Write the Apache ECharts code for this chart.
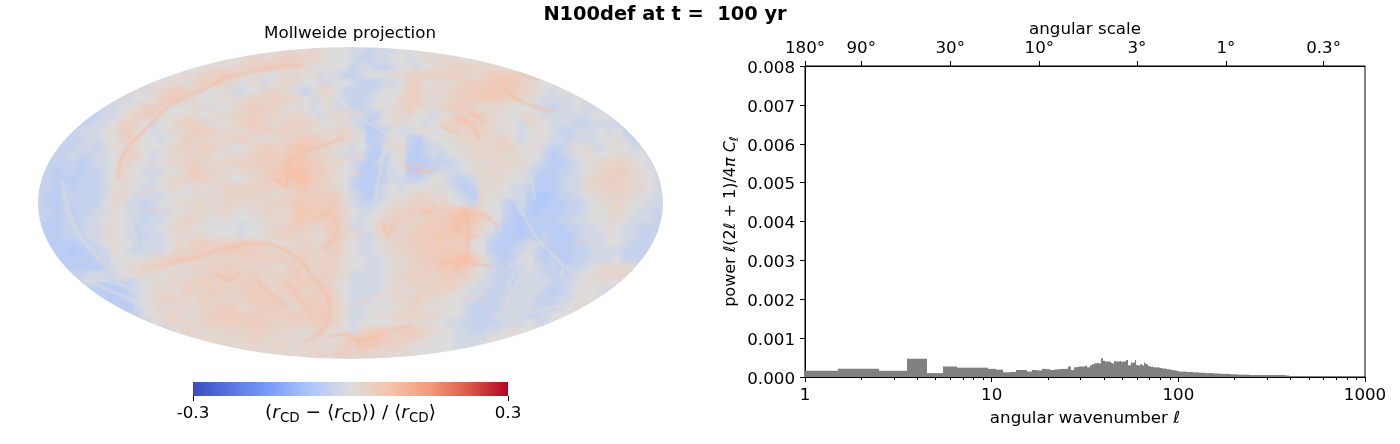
<!DOCTYPE html>
<html>
<head>
<meta charset="utf-8">
<script src="https://cdn.jsdelivr.net/npm/echarts@6/dist/echarts.min.js"></script>
<style>
  html, body { margin: 0; padding: 0; background: #fff; }
  #mapClip { position: absolute; left: 0; top: 0; width: 1400px; height: 444px; clip-path: ellipse(312.5px 156px at 350.5px 203px); }
  #mapLayer, #ridgeLayer { position: absolute; left: 0; top: 0; width: 1400px; height: 444px; }
  #mapLayer { filter: blur(2px); }
  #ridgeLayer { filter: blur(0.8px); }
  #main { position: absolute; left: 0; top: 0; width: 1400px; height: 444px; }
</style>
</head>
<body>
<div id="mapClip"><div id="mapLayer"></div><div id="ridgeLayer"></div></div>
<div id="main"></div>
<script>
// spectrum: power per multipole l = 1..100
var powerByEll = [
  .00016, .00021, .00016, .00047, .0001, .00027, .00024, .00024, .00024, .00021,
  .00019, .00012, .00013, .00018, .00018, .00014, .00018, .00017, .00021, .0002,
  .00018, .00019, .0002, .00021, .00021, .00027, .00018, .00025, .00026, .00027,
  .00027, .00029, .00025, .0003, .00033, .00035, .00036, .00035, .00048, .00042,
  .0004, .0004, .00039, .00036, .00034, .00041, .0004, .0004, .00041, .00039,
  .0004, .0004, .00044, .0003, .0003, .00037, .00036, .00037, .00044, .00031,
  .0003, .00029, .00033, .00031, .00029, .00037, .00035, .00033, .00028, .00027,
  .00028, .00026, .00027, .00025, .00025, .00024, .00026, .00025, .00024, .00023,
  .00023, .00022, .00022, .00021, .00022, .00021, .0002, .0002, .00019, .00019,
  .00019, .00018, .00018, .00018, .00017, .00017, .00016, .00016, .00016, .00015
]
// above l = 100 the bars are too thin to read one by one, so runs of them
var tailStart = [101, 110, 120, 130, 140, 155, 170, 190, 210, 240, 280, 330, 375]
var tailPower = [.00014, .00013, .00012, .00011, .0001, .00009, .00008, .00007, .00006, .00005, .00005, .00005, .00004]
var tailEnd = 391

var xMajor = [1, 10, 100, 1000]
var xMinor = [2, 3, 4, 5, 6, 7, 8, 9, 20, 30, 40, 50, 60, 70, 80, 90, 200, 300, 400, 500, 600, 700, 800, 900]
var scaleEll = [1, 2, 6, 18, 60, 180, 600] // 180 / l degrees
var colorbarTicks = [-0.3, 0.3]
var coolwarm = ['#3b4cc0', '#5977e3', '#7b9ff9', '#aec7fc', '#dddcdc', '#f5c4ac', '#f49a7b', '#da5a49', '#b40426']

// value of each hex digit used in mapRows
var mapLevels = [-.08, -.068, -.054, -.036, -.018, 0, .014, .028, .04, .052, .064, .08]
// map rows, top to bottom, grouped in fives for reading; a dot is off the sphere
var mapRows = [
  '..... ..... ..... ..... ..... ..556 67667 65554 43444 55666 55...',
  '..... ..... ..... ..... ..565 67767 88877 65554 33445 54566 76655 5....',
  '..... ..... ..... ...55 56656 78898 87765 56553 44334 55456 67777 76655',
  '..... ..... ..... 45565 78898 76655 66755 45433 45556 67788 88876 78998 755..',
  '..... ..... ..445 55657 88876 56645 76655 44554 33344 58856 66788 899a9 87655 5....',
  '..... ..... 44546 78987 65564 45577 66435 76533 33455 68866 77889 9aa99 87654 55...',
  '..... ....3 44556 89976 55656 67778 87654 65443 34555 78866 67889 9a988 76544 44544',
  '..... ..344 55688 86556 64556 78887 65654 55443 34566 78766 78987 66665 55443 44544 4....',
  '..... .3344 56898 65566 55667 78877 66765 46664 43356 67554 56889 87655 66544 44445 54...',
  '....3 33445 78754 55788 76556 89876 77877 65664 32456 65545 78998 77655 46654 44334 443..',
  '...33 44456 88654 56678 88767 67887 88776 66776 42235 44665 56778 87655 45654 33444 5453.',
  '...33 34455 78655 45688 76677 87656 77899 86776 52346 53245 56677 76775 45554 43444 55643 3..',
  '..333 44345 57655 56787 88765 56788 79aa8 77654 53256 63234 45667 67787 56643 34564 45654 4..',
  '.3334 33445 68754 56677 77566 67899 8aa98 76644 42235 62234 35567 76766 65532 34565 55665 54.',
  '.3333 23445 77554 56778 76777 88898 9aaa9 87654 32335 62223 33456 66776 65432 23456 67776 543',
  '33233 23345 76544 45679 87765 67789 abba8 97654 22234 52233 44456 67665 64322 33456 77886 654',
  '33222 33345 76554 56778 87665 56788 9abb9 87653 22234 43345 54334 66765 64222 34467 78876 654',
  '33232 33346 65544 56656 56778 77888 88aa8 77653 22345 45556 64323 66654 43222 34467 78876 754',
  '32233 33346 75444 45556 66677 87776 77898 88764 32345 56776 65432 76654 42112 33456 67776 654',
  '32233 33356 64434 55666 76677 66778 78a99 99864 33456 67877 76543 65532 42112 23345 66765 544',
  '33232 33446 54433 44566 76676 56677 67aa9 9a875 44567 78888 89ab8 75532 32122 23345 56765 443',
  '32233 34456 54434 45677 66555 55667 67a98 88865 45678 88789 9abba 86532 12222 33445 56654 443',
  '22233 34466 54344 56776 55555 45567 78987 79874 45788 77899 9ab98 75422 12222 23344 56544 33.',
  '22233 34466 54334 45666 65555 45567 88776 68875 44677 78989 a9a97 64322 12232 22344 45544 3..',
  '.2222 33456 55344 45668 88788 88776 66776 78865 44567 78899 a9986 53222 34332 22334 45543 3..',
  '.2221 23346 54344 45778 88999 98877 77787 78865 44567 77889 99996 53223 44322 22334 44433 ...',
  '..222 22335 55556 78988 77777 78888 97887 78765 54456 67889 aabba 64323 45323 22334 4453. ...',
  '...22 22234 56788 86667 78788 77776 68887 78765 54456 67788 aab97 54333 45433 23345 666.. ...',
  '...33 34444 56766 56667 78898 78878 78978 88764 44456 78887 89886 54333 44433 33456 777.. ...',
  '....3 43222 33456 67677 88787 98877 88998 78654 44456 67778 88765 44333 44443 34566 65... ...',
  '..... .3222 23456 76687 78887 89987 88878 88654 44456 66787 77654 43334 44432 34555 4.... ...',
  '..... ..322 23456 78766 87777 78998 77889 88754 44556 77876 65544 33344 44333 44565 ..... ...',
  '..... ....2 22456 76676 77888 67889 87789 98754 45555 67765 65543 33344 44333 456.. ..... ...',
  '..... ..... 23356 67766 78899 98888 88889 98764 45556 77766 55543 33444 43345 5.... ..... ...',
  '..... ..... ..335 67666 78888 89988 78888 98754 55556 66666 54433 33344 45445 ..... ..... ...',
  '..... ..... ..... 34577 66677 78887 77667 86654 78997 89876 65443 34456 55... ..... ..... ...',
  '..... ..... ..... ...55 66766 67776 66656 76679 9aa98 88765 55444 45555 ..... ..... ..... ...',
  '..... ..... ..... ..... ..566 66667 76677 66788 98877 76555 55444 5.... ..... ..... ..... ...',
  '..... ..... ..... ..... ..... ..666 66667 77887 77766 66555 5.... ..... ..... ..... ..... ...'
]

// ridge lines on the map, on a plane 62.5 wide and 31.2 high
var paleLines = [
  [[34, 11.6], [34.8, 10.6], [36, 9], [37.8, 8.5], [40.5, 9.8], [43, 11.6], [45.5, 13.3], [47.8, 15.6], [49.8, 19], [52, 21.3], [54, 22.8], [57, 23.5]],
  [[4.6, 23.3], [9, 23], [10, 22.5], [10, 20.3], [9, 17], [8.3, 15.3], [8, 13.3]],
  [[28.8, 3.8], [31.8, 6.8], [34.3, 8.3], [36, 9]],
  [[2.3, 13.3], [3.8, 18.3], [7.3, 22.3]],
  [[4.6, 23.3], [8.5, 23.8], [11.9, 26]],
  [[4.6, 23.3], [9.3, 25.3], [13.3, 27.3]],
  [[49.8, 19.6], [48.3, 21.3], [46.8, 24.3]],
  [[34.5, 10.6], [33.7, 15.3]],
  [[35, 12.3], [35.7, 15]],
  [[49.4, 13.3], [49.7, 15.3]],
  [[50.4, 19.6], [47, 22]],
  [[52.4, 21.6], [52.4, 23]],
  [[48, 23.3], [46.7, 26]],
  [[51, 23], [48.7, 26]],
  [[54.7, 25.3], [48.7, 26.6]],
  [[44, 29.6], [48.4, 28.5]]
]
var warmLines = [
  [[12.5, 27], [18, 28.3], [22.5, 29.5], [26.5, 29.5]],
  [[10, 22.5], [12.5, 21.8]],
  [[53.7, 9], [53.4, 10.6]],
  [[47.2, 10], [46.7, 6.6], [45, 4.3]],
  [[40, 1.3], [45, 2.5], [48, 3]],
  [[37, 3], [37.7, 5], [37.4, 6.6]],
  [[7.5, 5.6], [13.2, 3.5], [17.9, 2.5], [22.5, 1]],
  [[26.5, 1.8], [28.5, 3.6], [29.2, 5], [28.9, 7]],
  [[15.2, 9.6], [16.9, 10.6], [18.2, 10], [20.9, 9.6], [22.2, 10]],
  [[16.9, 8.6], [17, 10]],
  [[17.2, 6.3], [18.9, 7.6], [20.9, 7], [23.2, 7.3], [24.9, 5.3], [25.9, 5]],
  [[8.5, 10.8], [10.5, 11.3], [12.5, 12.3], [13.9, 14], [11.5, 14.3], [10.2, 14.8]],
  [[12.5, 7.6], [13.9, 7.1], [15.9, 8], [16.9, 8.6]],
  [[16.9, 5.6], [17.4, 7.6]],
  [[19.2, 4.3], [18.9, 5.1]],
  [[6.2, 10.1], [8.9, 10], [10.5, 8.3]],
  [[15.9, 14.6], [17.2, 13.3], [18.5, 13], [20.5, 12.3], [22.5, 11]],
  [[28.5, 12.6], [30.5, 11.3]],
  [[28.2, 15], [29.2, 13.3]],
  [[30.7, 6], [32.7, 7]],
  [[30.7, 11.6], [31.7, 10.3], [32.4, 11.3], [31, 11.3]],
  [[30.7, 13], [32.4, 12.6]],
  [[38.7, 4.3], [40, 4.3]],
  [[48, 7.3], [50.7, 7]],
  [[50, 8.6], [50.7, 9.3]],
  [[56.4, 11.6], [57.7, 12.3], [57, 11]],
  [[56.7, 14.3], [59, 14], [58.4, 13]],
  [[48, 11], [48.4, 11.6]],
  [[10.5, 16.5], [13.9, 16.3]],
  [[17.9, 16.1], [18.9, 17.6]],
  [[13.2, 18.6], [14.9, 20], [15.9, 19], [17.2, 18.6]],
  [[20.5, 15.3], [21.2, 16.6]],
  [[23.5, 16.3], [24.5, 15.3]],
  [[13.5, 23], [14.9, 24], [15.9, 24.6]],
  [[14.9, 25.6], [17.5, 25]],
  [[17.9, 27], [20.5, 27.6], [23.2, 27], [25.5, 27.1]],
  [[19.9, 25], [22.5, 25.3]],
  [[15.5, 23.3], [17.9, 23.6]],
  [[13.5, 28], [17.2, 29.3], [22.5, 30.3]],
  [[31, 19], [32.4, 18.3], [31.9, 20.3]],
  [[38.4, 21], [40.7, 19.6], [43, 19]],
  [[40.4, 23.3], [41.7, 21.6]],
  [[38, 25.3], [42, 23.6], [44.7, 23]],
  [[42, 25.3], [44.7, 25]],
  [[30.7, 26], [34, 25], [37.4, 23.6]],
  [[34, 27], [40.7, 26.8]],
  [[57.4, 16.3], [58.4, 15.6]],
  [[54, 19.6], [55.4, 19.3]]
]
var hotLines = [
  [[7.9, 13.3], [8.5, 10.8], [10.9, 8.1], [11.9, 7.1], [13.2, 5.8], [16.5, 4.3], [18.9, 3.1], [23.2, 2.1], [26.5, 1.8]],
  [[12.5, 21.8], [15.5, 21.1], [19.2, 20], [21.9, 19.6], [25.2, 20.6], [27.5, 23], [29.2, 26], [28.5, 28.3], [26.5, 29.5]],
  [[24.9, 11.6], [24.9, 14], [23.5, 13]],
  [[30.5, 9], [28.2, 10], [26.5, 10.6], [24.9, 11.6]],
  [[42, 7], [43.7, 8.1], [44, 9.3]],
  [[43.4, 6.6], [44.7, 7.6]],
  [[40.4, 8], [42, 8.6]],
  [[46.7, 4.3], [48.4, 5.5], [51.7, 6.5]],
  [[48, 2.6], [50, 3.3]],
  [[36.7, 11.8], [38, 12.6], [39.7, 12.3]],
  [[37.7, 11.6], [38.7, 12.6]],
  [[27.5, 17.3], [29.2, 16.6], [29.9, 18.3], [28.5, 20.3]],
  [[17.9, 22.6], [18.9, 23.3], [20.2, 22.5]],
  [[21.9, 23.3], [23.2, 24.6], [24.9, 26]],
  [[24.9, 23.6], [27.2, 26.6]],
  [[29.2, 29], [31.2, 28.6]],
  [[42.7, 17], [44, 16.6], [46, 18]],
  [[43, 17], [43, 21.3]],
  [[42.7, 19.1], [44, 18.8]],
  [[40.4, 21.6], [43, 21.6], [45.4, 22]],
  [[38.4, 16.3], [39, 16.6], [39.5, 15.8]],
  [[34.5, 17.6], [35, 19], [35.4, 18]],
  [[30.7, 28.6], [32.4, 29.3], [34.4, 28.6]],
  [[31.7, 29], [32.7, 30], [34, 29.6]],
  [[35.4, 28.3], [37.4, 27.8]]
]

var mapData = []
var rimData = [] // fills out the rim under the blur, from each row's own end values
mapRows.forEach(function (row, r) {
  var cells = row.replace(/ /g, '')
  var first = cells.search(/[^.]/)
  var last = cells.replace(/\.+$/, '').length - 1
  cells.split('').forEach(function (ch, c) {
    if (ch !== '.') mapData.push([c, r, mapLevels[parseInt(ch, 16)]])
  })
  var lo = mapLevels[parseInt(cells.charAt(first), 16)]
  var hi = mapLevels[parseInt(cells.charAt(last), 16)]
  rimData.push([first - 4, r, first, lo], [last + 1, r, last + 5, hi])
})
rimData.push([20, -1, 58, 0], [28, 39, 50, 0.028])

var specData = powerByEll.map(function (p, i) {
  return [i + 0.5, i + 1.5, p]
})
tailStart.forEach(function (s, i) {
  var next = i + 1 < tailStart.length ? tailStart[i + 1] : tailEnd
  specData.push([s - 0.5, next - 0.5, tailPower[i]])
})

var font = 'DejaVu Sans'

function renderMapCell(params, api) {
  var c = api.value(0), r = api.value(1)
  var p0 = api.coord([c, r])
  var p1 = api.coord([c + 1, r + 1])
  return {
    type: 'rect',
    shape: { x: p0[0], y: p0[1], width: p1[0] - p0[0], height: p1[1] - p0[1] },
    style: { fill: api.visual('color') }
  }
}

function renderRim(params, api) {
  var p0 = api.coord([api.value(0), api.value(1)])
  var p1 = api.coord([api.value(2), api.value(1) + 1])
  return {
    type: 'rect',
    shape: { x: p0[0], y: p0[1], width: p1[0] - p0[0], height: p1[1] - p0[1] },
    style: { fill: api.visual('color') }
  }
}

function renderBin(params, api) {
  var left = api.coord([Math.max(api.value(0), 1), api.value(2)])
  var right = api.coord([Math.min(api.value(1), 1000), 0])
  var x0 = Math.round(left[0]), x1 = Math.max(Math.round(right[0]), x0 + 1)
  return {
    type: 'rect',
    shape: { x: x0, y: left[1], width: x1 - x0, height: right[1] - left[1] },
    style: { fill: '#808080' }
  }
}

function renderColorbar(params, api) {
  var a = api.coord([api.value(0), 1])
  var b = api.coord([api.value(1), 0])
  return {
    type: 'rect',
    shape: { x: a[0], y: a[1], width: b[0] - a[0], height: b[1] - a[1] },
    style: {
      fill: new echarts.graphic.LinearGradient(0, 0, 1, 0, coolwarm.map(function (col, i) {
        return { offset: i / (coolwarm.length - 1), color: col }
      }))
    }
  }
}

function ridgeSeries(lines, color, width) {
  return lines.map(function (pts) {
    return {
      type: 'line',
      data: pts,
      smooth: 0.4,
      showSymbol: false,
      silent: true,
      lineStyle: { color: color, width: width, opacity: 0.8 }
    }
  })
}

var mapChart = echarts.init(document.getElementById('mapLayer'))
mapChart.setOption({
  animation: false,
  visualMap: [
    { show: false, seriesIndex: 0, dimension: 2, min: -0.3, max: 0.3, inRange: { color: coolwarm } },
    { show: false, seriesIndex: 1, dimension: 3, min: -0.3, max: 0.3, inRange: { color: coolwarm } }
  ],
  grid: { left: 38, top: 47, width: 625, height: 312 },
  xAxis: { type: 'value', min: 0, max: 78.125, show: false },
  yAxis: { type: 'value', min: 0, max: 39, inverse: true, show: false },
  series: [
    { type: 'custom', data: mapData, encode: { x: 0, y: 1 }, renderItem: renderMapCell, silent: true },
    { type: 'custom', data: rimData, encode: { x: [0, 2], y: 1 }, renderItem: renderRim, silent: true }
  ]
})

var ridgeChart = echarts.init(document.getElementById('ridgeLayer'))
ridgeChart.setOption({
  animation: false,
  backgroundColor: 'transparent',
  grid: { left: 38, top: 47, width: 625, height: 312 },
  xAxis: { type: 'value', min: 0, max: 62.5, show: false },
  yAxis: { type: 'value', min: 0, max: 31.2, inverse: true, show: false },
  series: ridgeSeries(paleLines, '#e0dcda', 2)
    .concat(ridgeSeries(warmLines, '#f3d2c2', 1.7))
    .concat(ridgeSeries(hotLines, '#f6bda4', 2.2))
})

var chart = echarts.init(document.getElementById('main'))

var option = {
  animation: false,
  backgroundColor: 'transparent',
  textStyle: { fontFamily: font },
  title: [
    {
      text: 'N100def at t =  100 yr',
      left: 665, top: 5, textAlign: 'center', padding: 0,
      textStyle: { fontSize: 19.4, fontWeight: 'bold', color: '#000', fontFamily: font }
    },
    {
      text: 'Mollweide projection',
      left: 350, top: 25, textAlign: 'center', padding: 0,
      textStyle: { fontSize: 16.7, fontWeight: 'normal', color: '#000', fontFamily: font }
    }
  ],
  grid: [
    { left: 805, top: 66, width: 560, height: 311, show: true, borderColor: '#000', borderWidth: 1, backgroundColor: 'transparent' },
    { left: 193, top: 382, width: 315, height: 14 }
  ],
  xAxis: [
    {
      gridIndex: 0, type: 'log', logBase: 10, min: 1, max: 1000, position: 'bottom',
      name: '{t|angular wavenumber }{i|ℓ}', nameLocation: 'middle', nameGap: 33, nameMoveOverlap: false,
      nameTextStyle: {
        rich: {
          t: { fontSize: 16.7, fontFamily: font, color: '#000' },
          i: { fontSize: 16.7, fontFamily: font, fontStyle: 'italic', color: '#000' }
        }
      },
      axisLine: { show: true, lineStyle: { color: '#000', width: 1 } },
      axisTick: { show: true, length: 5, inside: false, lineStyle: { color: '#000' }, customValues: xMajor },
      axisLabel: { fontSize: 16.7, color: '#000', margin: 10, customValues: xMajor, formatter: function (v) { return String(Math.round(v)) } },
      splitLine: { show: false }, minorTick: { show: false }, minorSplitLine: { show: false }
    },
    {
      gridIndex: 0, type: 'log', logBase: 10, min: 1, max: 1000, position: 'top',
      name: 'angular scale', nameLocation: 'middle', nameGap: 28, nameMoveOverlap: false,
      nameTextStyle: { fontSize: 16.7, color: '#000' },
      axisLine: { show: true, lineStyle: { color: '#000', width: 1 } },
      axisTick: { show: true, length: 5, lineStyle: { color: '#000' }, customValues: scaleEll },
      axisLabel: { fontSize: 16.7, color: '#000', margin: 9, customValues: scaleEll, formatter: function (v) { return (180 / v) + '°' } },
      splitLine: { show: false }
    },
    {
      gridIndex: 0, type: 'log', logBase: 10, min: 1, max: 1000, position: 'bottom',
      axisLine: { show: false },
      axisTick: { show: true, length: 3, lineStyle: { color: '#000' }, customValues: xMinor },
      axisLabel: { show: false },
      splitLine: { show: false }
    },
    {
      gridIndex: 1, type: 'value', min: -0.3, max: 0.3, position: 'bottom',
      name: '{a|(}{r|r}{s|CD}{a| − ⟨}{r|r}{s|CD}{a|⟩) / ⟨}{r|r}{s|CD}{a|⟩}', nameLocation: 'middle', nameGap: 5, nameMoveOverlap: false,
      nameTextStyle: {
        rich: {
          a: { fontSize: 18.5, fontFamily: font, color: '#000', lineHeight: 24 },
          r: { fontSize: 18.5, fontFamily: font, fontStyle: 'italic', color: '#000', lineHeight: 24 },
          s: { fontSize: 13.5, fontFamily: font, color: '#000', lineHeight: 24, verticalAlign: 'bottom' }
        }
      },
      axisLine: { show: false },
      axisTick: { show: true, length: 5, lineStyle: { color: '#000' }, customValues: colorbarTicks },
      axisLabel: { fontSize: 16.7, color: '#000', margin: 9, customValues: colorbarTicks, formatter: function (v) { return v.toFixed(1) } },
      splitLine: { show: false }
    }
  ],
  yAxis: [
    {
      gridIndex: 0, type: 'value', min: 0, max: 0.008, interval: 0.001,
      name: '{t|power }{i|ℓ}{t|(2}{i|ℓ}{t| + 1)/4}{i|π C}{s|ℓ}', nameLocation: 'middle', nameGap: 64, nameRotate: 90, nameMoveOverlap: false,
      nameTextStyle: {
        rich: {
          t: { fontSize: 16, fontFamily: font, color: '#000', lineHeight: 20 },
          i: { fontSize: 16, fontFamily: font, fontStyle: 'italic', color: '#000', lineHeight: 20 },
          s: { fontSize: 12, fontFamily: font, fontStyle: 'italic', color: '#000', lineHeight: 20, verticalAlign: 'bottom' }
        }
      },
      axisLine: { show: true, lineStyle: { color: '#000', width: 1 } },
      axisTick: { show: true, length: 5, lineStyle: { color: '#000' } },
      axisLabel: {
        margin: 10,
        formatter: function (v) { return '{v|' + v.toFixed(3) + '}' },
        rich: { v: { fontSize: 16.7, fontFamily: font, color: '#000', padding: [5, 0, 0, 0] } }
      },
      splitLine: { show: false }
    },
    { gridIndex: 1, type: 'value', min: 0, max: 1, show: false }
  ],
  series: [
    {
      type: 'custom',
      name: 'power',
      coordinateSystem: 'cartesian2d',
      xAxisIndex: 0,
      yAxisIndex: 0,
      data: specData,
      encode: { x: [0, 1], y: 2 },
      renderItem: renderBin,
      silent: true,
      z: 2
    },
    {
      type: 'custom',
      name: 'colorbar',
      coordinateSystem: 'cartesian2d',
      xAxisIndex: 3,
      yAxisIndex: 1,
      data: [[-0.3, 0.3]],
      encode: { x: [0, 1] },
      renderItem: renderColorbar,
      silent: true
    }
  ]
}

chart.setOption(option)
</script>
</body>
</html>
